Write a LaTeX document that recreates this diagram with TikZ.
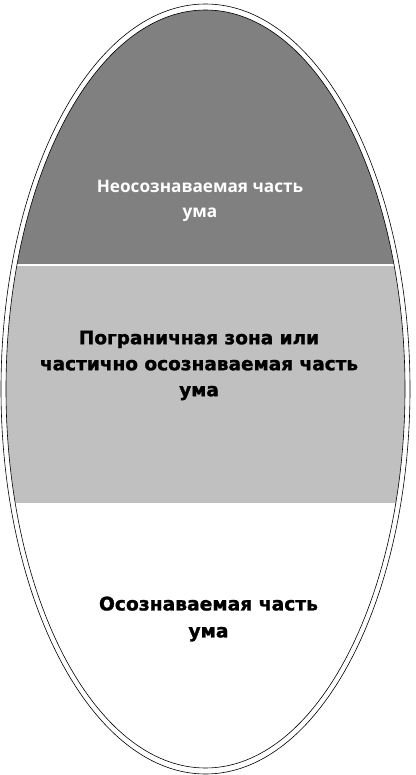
\documentclass[tikz,border=0pt]{standalone}
\usepackage{fontspec}
\setmainfont{Open Sans}
\newfontfamily\heavyfont[BoldFeatures={FakeBold=1.4}]{DejaVu Sans}
\definecolor{darkband}{RGB}{128,128,128}
\definecolor{lightband}{RGB}{192,192,192}
\begin{document}
\begin{tikzpicture}[x=1pt,y=-1pt,
  rim/.style={draw=black,line width=0.6pt},
  toplabel/.style={align=center,text=white,font=\fontsize{17.2}{25.5}\selectfont\bfseries,inner sep=0pt},
  midlabel/.style={align=center,text=black,font=\heavyfont\fontsize{18.5}{26}\selectfont\bfseries,inner sep=0pt},
  botlabel/.style={align=center,text=black,font=\heavyfont\fontsize{18.7}{27}\selectfont\bfseries,inner sep=0pt}]
\useasboundingbox (0,0) rectangle (415,775);
\coordinate (c) at (205.5,389);
\begin{scope}
  \clip (c) ellipse [x radius=199.5, y radius=379];
  \fill[darkband] (0,0) rectangle (415,264.5);
  \fill[lightband] (0,265.8) rectangle (415,503);
\end{scope}
\draw[rim] (c) ellipse [x radius=204.5, y radius=385];
\draw[rim] (c) ellipse [x radius=199.5, y radius=379];
\node[toplabel] (unc) at (200,201) {Неосознаваемая часть\\ума};
\node[midlabel] (border) at (199,365.5) {Пограничная зона или\\частично осознаваемая часть\\ума};
\node[botlabel] (con) at (208.5,619) {Осознаваемая часть\\ума};
\end{tikzpicture}
\end{document}
